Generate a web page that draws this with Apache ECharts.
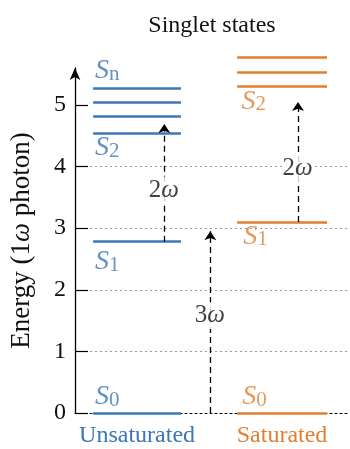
<!DOCTYPE html>
<html>
<head>
<meta charset="utf-8">
<script src="https://cdn.jsdelivr.net/npm/echarts@6/dist/echarts.min.js"></script>
<style>html,body{margin:0;padding:0;background:#fff}#c{width:350px;height:449px}</style>
</head>
<body>
<div id="c"></div>
<script>
// ---- data ----
const categories = ['Unsaturated', 'Saturated'];
const columnCenters = [0, 1];
const columnColors = ['#3b77b4', '#e07f31'];
const unsatLevels = [0, 2.78, 4.54, 4.82, 5.04, 5.27];
const satLevels = [0, 3.1, 5.31, 5.53, 5.77];
const levelHalfWidth = [0.303, 0.31];
const arrowX = [0.188, 0.505, 1.11];
const arrowFrom = [2.78, 0, 3.1];
const arrowTo = [4.69, 2.95, 5.05];
const arrowCount = ['2', '3', '2'];
const arrowTextY = [3.62, 1.58, 3.97];
const stateSub = ['n', '2', '1', '0', '2', '1', '0'];
const stateCol = [0, 0, 0, 0, 1, 1, 1];
const stateX = [-0.29, -0.29, -0.29, -0.29, 0.72, 0.732, 0.726];
const stateY = [5.55, 4.30, 2.45, 0.26, 5.06, 2.87, 0.26];
const yTicks = [0, 1, 2, 3, 4, 5];

const FONT = 'Liberation Serif';
const chart = echarts.init(document.getElementById('c'));

function levelSeries(levels, col) {
  return {
    type: 'lines', coordinateSystem: 'cartesian2d', clip: false, z: 3,
    lineStyle: { color: columnColors[col], width: 2.6, opacity: 1 },
    data: levels.map(v => ({ coords: [[columnCenters[col] - levelHalfWidth[col], v], [columnCenters[col] + levelHalfWidth[col], v]] }))
  };
}

const arrowSeries = {
  type: 'lines', coordinateSystem: 'cartesian2d', clip: false, z: 4,
  symbol: ['none', 'arrow'], symbolSize: [1, 9],
  lineStyle: { color: '#000', width: 1.3, type: [6, 4], opacity: 1 },
  data: arrowX.map((x, i) => ({ coords: [[x, arrowFrom[i]], [x, arrowTo[i]]] }))
};

const arrowLabels = {
  type: 'scatter', symbolSize: 0, z: 6, clip: false, silent: true,
  data: arrowX.map((x, i) => [x, arrowTextY[i], arrowCount[i]]),
  label: {
    show: true, position: 'inside', backgroundColor: '#fff', padding: [1, 1, 1, 0],
    formatter: p => p.data[2] + '{w|ω}',
    fontFamily: FONT, fontSize: 25, color: '#111',
    rich: { w: { fontFamily: FONT, fontSize: 25, fontStyle: 'italic', color: '#111' } }
  }
};

const stateLabels = {
  type: 'scatter', symbolSize: 0, z: 6, clip: false, silent: true,
  data: stateX.map((x, i) => ({ value: [x, stateY[i]], sub: stateSub[i], col: stateCol[i] })),
  label: {
    show: true, position: 'right', distance: 0,
    formatter: p => (p.data.col === 0 ? '{s|S}{b|' : '{t|S}{c|') + p.data.sub + '}',
    rich: {
      s: { fontFamily: FONT, fontSize: 28, fontStyle: 'italic', color: columnColors[0], lineHeight: 28, padding: [0, 0, 7, 0], verticalAlign: 'top' },
      b: { fontFamily: FONT, fontSize: 21, color: columnColors[0], lineHeight: 21, verticalAlign: 'bottom' },
      t: { fontFamily: FONT, fontSize: 28, fontStyle: 'italic', color: columnColors[1], lineHeight: 28, padding: [0, 0, 7, 0], verticalAlign: 'top' },
      c: { fontFamily: FONT, fontSize: 21, color: columnColors[1], lineHeight: 21, verticalAlign: 'bottom' }
    }
  }
};

chart.setOption({
  animation: false,
  title: { text: 'Singlet states', left: 207, top: 9, textAlign: 'center',
    textStyle: { fontFamily: FONT, fontSize: 24, fontWeight: 'normal', color: '#111' } },
  grid: { left: 75, right: 3, top: 68, bottom: 36 },
  xAxis: {
    type: 'value', min: -0.428, max: 1.448,
    splitLine: { show: false }, axisTick: { show: false },
    axisLine: { show: true, onZero: true, lineStyle: { color: '#000', width: 1.2, type: [2, 3] } },
    axisLabel: {
      customValues: columnCenters, margin: 11,
      formatter: v => (v === 0 ? '{u|' + categories[0] + '}' : '{v|' + categories[1] + '}'),
      rich: {
        u: { fontFamily: FONT, fontSize: 24, color: columnColors[0] },
        v: { fontFamily: FONT, fontSize: 24, color: columnColors[1] }
      }
    }
  },
  yAxis: {
    type: 'value', min: 0, max: 5.6, interval: 1,
    name: 'Energy (1{w|ω} photon)', nameLocation: 'middle', nameGap: 40,
    nameTextStyle: { fontFamily: FONT, fontSize: 27, color: '#111',
      rich: { w: { fontFamily: FONT, fontSize: 27, fontStyle: 'italic', color: '#111' } } },
    axisLine: { show: true, onZero: false, symbol: ['none', 'arrow'], symbolSize: [8, 12],
      lineStyle: { color: '#000', width: 1.3 } },
    axisTick: { show: true, inside: true, length: 13, customValues: yTicks, lineStyle: { color: '#000', width: 1.2 } },
    axisLabel: { customValues: yTicks, fontFamily: FONT, fontSize: 24, color: '#111', margin: 9 },
    splitLine: { show: true, showMinLine: false, showMaxLine: false,
      lineStyle: { color: '#9a9a9a', width: 1, type: [2, 3] } }
  },
  series: [levelSeries(unsatLevels, 0), levelSeries(satLevels, 1), arrowSeries, arrowLabels, stateLabels]
});
</script>
</body>
</html>
